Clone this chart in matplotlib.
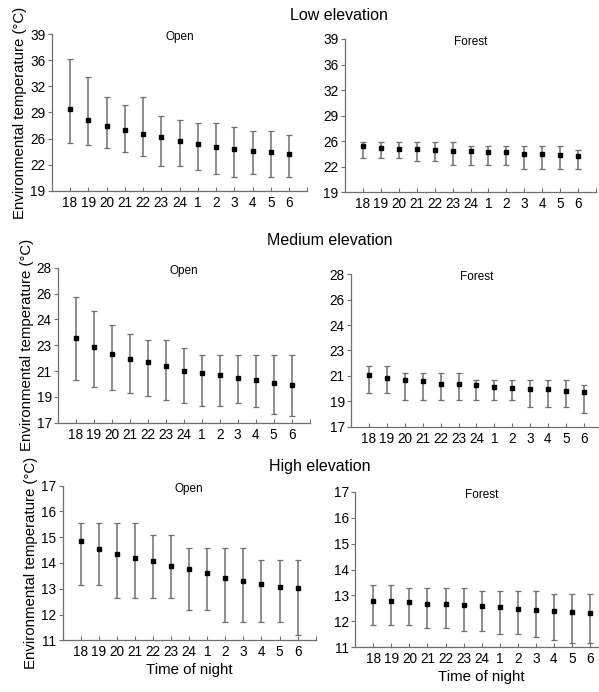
import numpy as np
import matplotlib
matplotlib.use("Agg")
import matplotlib.pyplot as plt

plt.rcParams['font.family'] = ['Liberation Sans', 'DejaVu Sans']

hours = ['18', '19', '20', '21', '22', '23', '24', '1', '2', '3', '4', '5', '6']

# low elevation
low_open_mean = [29.5, 28.1, 27.3, 26.8, 26.3, 25.9, 25.3, 25.0, 24.6, 24.3, 24.1, 23.9, 23.7]
low_open_up = [35.9, 33.5, 31.0, 30.0, 31.0, 28.6, 28.1, 27.6, 27.6, 27.1, 26.6, 26.6, 26.1]
low_open_low = [25.1, 24.9, 24.5, 24.0, 23.4, 22.2, 22.2, 21.6, 21.1, 20.7, 21.1, 20.7, 20.7]
low_for_mean = [25.0, 24.8, 24.7, 24.7, 24.5, 24.4, 24.4, 24.3, 24.2, 24.0, 24.0, 23.9, 23.8]
low_for_up = [25.6, 25.6, 25.6, 25.6, 25.6, 25.6, 25.1, 25.1, 25.1, 25.1, 25.1, 25.1, 24.5]
low_for_low = [23.5, 23.5, 23.5, 23.1, 23.1, 22.6, 22.6, 22.6, 22.6, 22.0, 22.0, 22.0, 22.0]

# medium elevation
med_open_mean = [23.0, 22.4, 21.9, 21.5, 21.3, 21.0, 20.7, 20.5, 20.4, 20.2, 20.0, 19.8, 19.7]
med_open_up = [25.9, 24.9, 23.9, 23.3, 22.9, 22.9, 22.3, 21.8, 21.8, 21.8, 21.8, 21.8, 21.8]
med_open_low = [20.0, 19.5, 19.3, 19.1, 18.9, 18.6, 18.4, 18.2, 18.2, 18.4, 18.1, 17.6, 17.5]
med_for_mean = [20.7, 20.5, 20.4, 20.3, 20.1, 20.1, 20.0, 19.9, 19.8, 19.7, 19.7, 19.6, 19.5]
med_for_up = [21.4, 21.4, 20.9, 20.9, 20.9, 20.9, 20.4, 20.4, 20.4, 20.4, 20.4, 20.4, 20.0]
med_for_low = [19.4, 19.4, 18.9, 18.9, 18.9, 18.9, 18.9, 18.9, 18.9, 18.4, 18.4, 18.4, 18.0]

# high elevation
high_open_mean = [14.85, 14.53, 14.36, 14.21, 14.08, 13.9, 13.76, 13.6, 13.43, 13.3, 13.19, 13.07, 13.02]
high_open_up = [15.56, 15.56, 15.56, 15.56, 15.09, 15.09, 14.6, 14.6, 14.6, 14.6, 14.12, 14.12, 14.12]
high_open_low = [13.15, 13.15, 12.63, 12.63, 12.63, 12.63, 12.18, 12.18, 11.7, 11.7, 11.7, 11.7, 11.21]
high_for_mean = [12.8, 12.79, 12.73, 12.68, 12.68, 12.62, 12.58, 12.55, 12.49, 12.44, 12.41, 12.37, 12.32]
high_for_up = [13.4, 13.4, 13.3, 13.3, 13.3, 13.3, 13.17, 13.17, 13.17, 13.17, 13.04, 13.04, 13.04]
high_for_low = [11.86, 11.86, 11.86, 11.76, 11.76, 11.63, 11.63, 11.51, 11.51, 11.39, 11.28, 11.15, 11.15]

row_titles = ['Low elevation', 'Medium elevation', 'High elevation']
ranges = [(19, 39), (17, 28), (11, 17)]

W, H = 599, 692
fig = plt.figure(figsize=(W / 100, H / 100), dpi=100)

# pixel boxes: (x at 18, spacing, y top, y bottom)
boxes = [
    [(70, 18.25, 34.3, 190.7), (362.7, 17.97, 39, 192.3)],
    [(76, 17.97, 267.7, 422.7), (369, 17.9, 274.3, 426.7)],
    [(80.7, 18.08, 485.7, 640.3), (373.3, 18.06, 491.7, 647.3)],
]
panels = [
    [(low_open_mean, low_open_low, low_open_up), (low_for_mean, low_for_low, low_for_up)],
    [(med_open_mean, med_open_low, med_open_up), (med_for_mean, med_for_low, med_for_up)],
    [(high_open_mean, high_open_low, high_open_up), (high_for_mean, high_for_low, high_for_up)],
]
sub_names = ['Open', 'Forest']
grey = '#6f6f6f'

x = np.arange(len(hours))
for r in range(3):
    lo, hi = ranges[r]
    for c in range(2):
        x0, sp, yt, yb = boxes[r][c]
        left = x0 - sp
        right = x0 + 13 * sp
        ax = fig.add_axes([left / W, 1 - yb / H, (right - left) / W, (yb - yt) / H])
        mean, low, up = [np.array(v) for v in panels[r][c]]
        ax.errorbar(x, mean, yerr=[mean - low, up - mean], fmt='s', color='black',
                    ecolor=grey, elinewidth=1.1, capsize=2.2, capthick=0.9,
                    markersize=3.2)
        ax.set_xlim(-1, 13)
        ax.set_ylim(lo, hi)
        ax.set_xticks(np.arange(14))
        ax.set_xticklabels(hours + [''])
        yt_vals = np.linspace(lo, hi, 7)
        ax.set_yticks(yt_vals)
        ax.set_yticklabels([str(int(np.floor(v + 0.5))) for v in yt_vals])
        for s in ['top', 'right']:
            ax.spines[s].set_visible(False)
        for s in ['left', 'bottom']:
            ax.spines[s].set_color(grey)
            ax.spines[s].set_linewidth(0.9)
        ax.tick_params(axis='x', direction='in', length=3, color=grey,
                       labelsize=9.8, pad=3.5)
        ax.tick_params(axis='y', direction='out', length=3, color=grey,
                       labelsize=9.8, pad=1.5)
        ax.text(0.5, 0.98, sub_names[c], transform=ax.transAxes, ha='center',
                va='center', fontsize=8.5)
        if c == 0:
            ax.set_ylabel('Environmental temperature (°C)', fontsize=10.8, labelpad=2)
        if r == 2:
            ax.set_xlabel('Time of night', fontsize=10.8, labelpad=3)

fig.text(339 / W, 1 - 15 / H, row_titles[0], ha='center', va='center', fontsize=11.5)
fig.text(330 / W, 1 - 240 / H, row_titles[1], ha='center', va='center', fontsize=11.5)
fig.text(320 / W, 1 - 466 / H, row_titles[2], ha='center', va='center', fontsize=11.5)

fig.savefig('out.png', dpi=100)
